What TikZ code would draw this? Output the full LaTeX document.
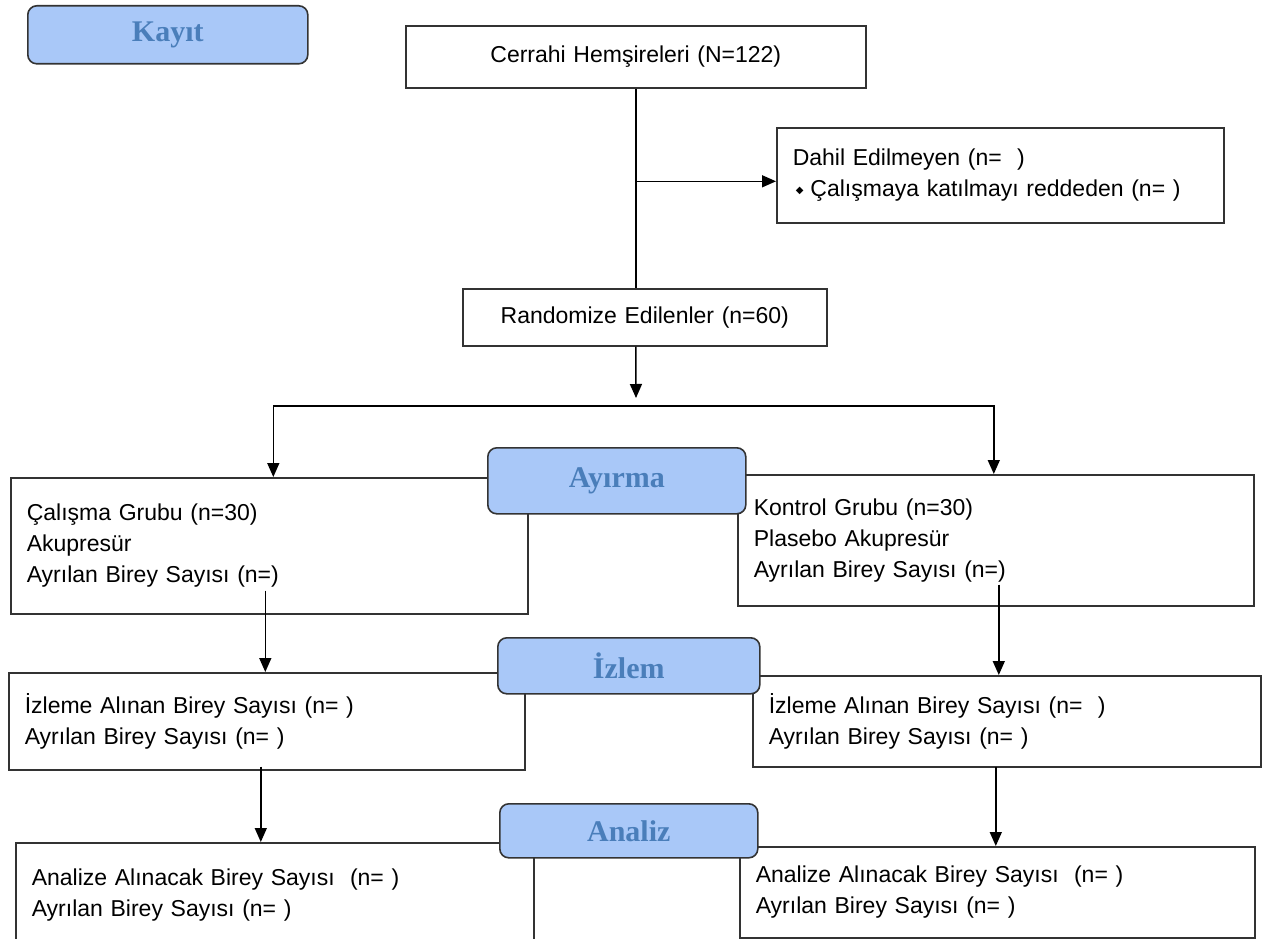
\documentclass[tikz,border=0pt]{standalone}
\usepackage{fontspec}
\setmainfont{Liberation Sans}
\newfontfamily\labelfont{Liberation Serif}
\newfontfamily\symbolfont{DejaVu Sans}
\usetikzlibrary{arrows.meta,positioning}
\definecolor{labblue}{HTML}{A9C8F8}
\definecolor{labtext}{HTML}{4A7EBA}
\definecolor{edgegray}{HTML}{333333}

\begin{document}
\begin{tikzpicture}[
  x=1pt, y=-1pt,
  font=\fontsize{23}{31}\selectfont,
  box/.style={draw=edgegray, line width=1.6pt, rectangle, fill=white, anchor=north west, align=left, inner xsep=16pt, inner ysep=0pt},
  lab/.style={draw=edgegray, line width=1.6pt, rounded corners=9pt, fill=labblue, text=labtext, font=\labelfont\bfseries\fontsize{30}{32}\selectfont, anchor=north west, inner sep=0pt},
  arr/.style={-{Triangle[length=14pt,width=12pt]}, line width=1.5pt}
]
\useasboundingbox (0,0) rectangle (1277,939);

% enrolment
\node[box, align=center, inner xsep=0pt, text width=460pt, minimum height=62pt] (cerrahi) at (405,25) {Cerrahi Hemşireleri (N=122)};
\node[box, text width=415pt, minimum height=95pt] (dahil) at (776,127) {Dahil Edilmeyen (n=\ \ )\\
  \hspace*{3pt}\raisebox{3pt}{\symbolfont\fontsize{10}{31}\selectfont ◆}\hspace{7pt}Çalışmaya katılmayı reddeden (n=\ )};
\node[box, align=center, inner xsep=0pt, text width=364pt, minimum height=57pt] (random) at (462,288) {Randomize Edilenler (n=60)};
\coordinate (fork) at (636,406);

% allocation
\node[box, text width=485pt, minimum height=136pt] (calisma) at (10,477) {Çalışma Grubu (n=30)\\ Akupresür\\ Ayrılan Birey Sayısı (n=)};
\node[box, text width=484pt, minimum height=131pt] (kontrol) at (737,474) {Kontrol Grubu (n=30)\\ Plasebo Akupresür\\ Ayrılan Birey Sayısı (n=)};

% follow-up
\node[box, text width=484pt, minimum height=97pt] (izlemeL) at (8,672) {İzleme Alınan Birey Sayısı (n=\ )\\ Ayrılan Birey Sayısı (n=\ )};
\node[box, text width=476pt, minimum height=91pt] (izlemeR) at (752,675) {İzleme Alınan Birey Sayısı (n=\ \ )\\ Ayrılan Birey Sayısı (n=\ )};

% analysis
\node[box, text width=486pt, minimum height=104pt] (analizeL) at (15,842) {Analize Alınacak Birey Sayısı\ \ (n=\ )\\ Ayrılan Birey Sayısı (n=\ )};
\node[box, text width=483pt, minimum height=91pt] (analizeR) at (739,846) {Analize Alınacak Birey Sayısı\ \ (n=\ )\\ Ayrılan Birey Sayısı (n=\ )};

% connectors
\coordinate (excl) at ([yshift=-6pt]dahil.west);
\draw[line width=1.5pt] (cerrahi.south) -- (cerrahi.south |- random.north);
\draw[arr] (cerrahi.south |- excl) -- (excl);
\draw[arr] (cerrahi.south |- random.south) -- ([yshift=8pt]fork);
\coordinate (forkL) at ([xshift=4pt]calisma.north);
\coordinate (forkR) at ([xshift=-2pt]kontrol.north);
\draw[arr] (fork) -| (forkL);
\draw[arr] (fork) -| (forkR);

\coordinate (fromCal) at ([xshift=-4pt,yshift=24pt]calisma.south);
\coordinate (fromKon) at ([xshift=3pt,yshift=22pt]kontrol.south);
\coordinate (fromIzL) at ([xshift=-6pt,yshift=4pt]izlemeL.south);
\coordinate (fromIzR) at ([xshift=-11pt,yshift=1pt]izlemeR.south);
\draw[arr] (fromCal) -- (fromCal |- izlemeL.north);
\draw[arr] (fromKon) -- (fromKon |- izlemeR.north);
\draw[arr] (fromIzL) -- (fromIzL |- analizeL.north);
\draw[arr] (fromIzR) -- (fromIzR |- analizeR.north);

% stage labels
\node[lab, minimum width=280pt, minimum height=58pt] (kayit) at (27,5) {Kayıt};
\node[lab, minimum width=258pt, minimum height=66pt] (ayirma) at (487,447) {Ayırma};
\node[lab, minimum width=262pt, minimum height=56pt] (izlem) at (497,637) {İzlem};
\node[lab, minimum width=258pt, minimum height=54pt] (analiz) at (499,803) {Analiz};
\end{tikzpicture}
\end{document}
